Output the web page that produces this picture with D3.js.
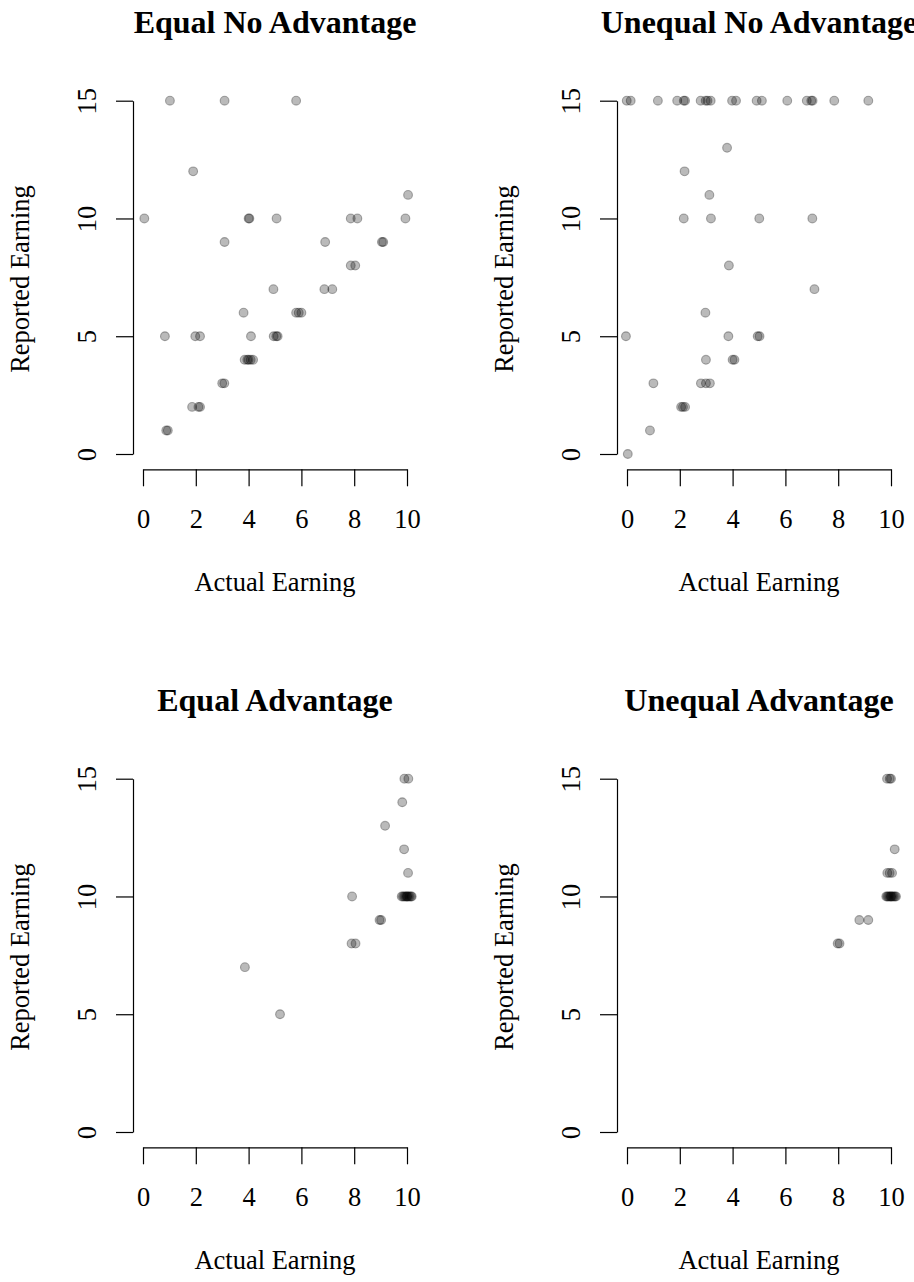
<!DOCTYPE html>
<html>
<head>
<meta charset="utf-8">
<script src="https://cdn.jsdelivr.net/npm/d3@7"></script>
<style>
  html, body { margin: 0; padding: 0; background: #fff; }
  svg { display: block; }
  text { font-family: "Liberation Serif", "Times New Roman", serif; fill: #000; }
</style>
</head>
<body>
<svg id="chart" width="914" height="1282"></svg>
<script>
// ---------------- DATA ----------------
const panelTitles = ["Equal No Advantage", "Unequal No Advantage", "Equal Advantage", "Unequal Advantage"];
const xTicks = [0, 2, 4, 6, 8, 10];
const yTicks = [0, 5, 10, 15];
const xLabel = "Actual Earning";
const yLabel = "Reported Earning";

// Equal No Advantage
const eqNoAdvX = [1.02, 3.09, 5.8, 1.9, 10.04,
  0.05, 4.0, 4.03, 5.06, 7.87, 8.12, 9.94,
  3.09, 6.9, 9.05, 9.1,
  7.87, 8.04,
  4.94, 6.87, 7.17,
  3.81, 5.8, 5.9, 6.0,
  0.83, 1.98, 2.16, 4.09, 4.95, 5.05, 5.1,
  3.85, 3.95, 4.0, 4.08, 4.17,
  3.0, 3.08,
  1.86, 2.1, 2.16,
  0.88, 0.94];
const eqNoAdvY = [15, 15, 15, 12, 11,
  10, 10, 10, 10, 10, 10, 10,
  9, 9, 9, 9,
  8, 8,
  7, 7, 7,
  6, 6, 6, 6,
  5, 5, 5, 5, 5, 5, 5,
  4, 4, 4, 4, 4,
  3, 3,
  2, 2, 2,
  1, 1];

// Unequal No Advantage
const uneqNoAdvX = [-0.01, 0.14, 1.17, 1.9, 2.15, 2.2, 2.79, 2.98, 3.05, 3.17, 3.98, 4.13, 4.91, 5.11, 6.07, 6.81, 6.98, 7.03, 7.85, 9.14,
  3.79, 2.18, 3.12,
  2.15, 3.18, 5.01, 7.02,
  3.86, 7.1, 2.97,
  -0.04, 3.84, 4.95, 5.02,
  2.99, 4.0, 4.07,
  1.0, 2.8, 2.99, 3.14,
  2.05, 2.12, 2.2,
  0.87, 0.03];
const uneqNoAdvY = [15, 15, 15, 15, 15, 15, 15, 15, 15, 15, 15, 15, 15, 15, 15, 15, 15, 15, 15, 15,
  13, 12, 11,
  10, 10, 10, 10,
  8, 7, 6,
  5, 5, 5, 5,
  4, 4, 4,
  3, 3, 3, 3,
  2, 2, 2,
  1, 0];

// Equal Advantage
const eqAdvX = [9.9, 10.05, 9.82, 9.17, 9.89, 10.04,
  7.92, 9.8, 9.85, 9.9, 9.95, 10.0, 10.0, 10.05, 10.1, 10.15, 10.18,
  8.96, 9.02,
  7.9, 8.05,
  3.86, 5.19];
const eqAdvY = [15, 15, 14, 13, 12, 11,
  10, 10, 10, 10, 10, 10, 10, 10, 10, 10, 10,
  9, 9,
  8, 8,
  7, 5];

// Unequal Advantage
const uneqAdvX = [9.85, 9.95, 10.0, 10.14,
  9.86, 9.95, 10.04,
  9.82, 9.86, 9.9, 9.95, 10.0, 10.0, 10.05, 10.1, 10.15, 10.19,
  8.8, 9.14,
  7.98, 8.05];
const uneqAdvY = [15, 15, 15, 12,
  11, 11, 11,
  10, 10, 10, 10, 10, 10, 10, 10, 10, 10,
  9, 9,
  8, 8];

const panelXs = [eqNoAdvX, uneqNoAdvX, eqAdvX, uneqAdvX];
const panelYs = [eqNoAdvY, uneqNoAdvY, eqAdvY, uneqAdvY];

// ---------------- LAYOUT ----------------
const svg = d3.select("#chart");
const origin = { x: 143, y: 100.7 };   // pixel of (0,15) in panel 1
const dx = 484, dy = 678;
const x = d3.scaleLinear().domain([0, 10]).range([0, 264]);
const y = d3.scaleLinear().domain([0, 15]).range([353.3, 0]);
const FS = 26.5;

panelTitles.forEach((title, i) => {
  const col = i % 2, row = Math.floor(i / 2);
  const g = svg.append("g")
    .attr("transform", `translate(${origin.x + col * dx},${origin.y + row * dy})`);

  // title
  g.append("text")
    .attr("x", x(5)).attr("y", 33 - origin.y)
    .attr("text-anchor", "middle")
    .style("font-weight", "bold").style("font-size", "32px")
    .text(title);

  // x axis
  const xAxisG = g.append("g")
    .attr("transform", `translate(0,${y(0) + 15.3})`)
    .call(d3.axisBottom(x).tickValues(xTicks).tickSize(17).tickSizeOuter(0).tickFormat(d3.format("d")));
  xAxisG.select(".domain").attr("stroke", "#000").attr("stroke-width", 1.2);
  xAxisG.selectAll(".tick line").attr("stroke", "#000").attr("stroke-width", 1.2);
  xAxisG.selectAll(".tick text")
    .attr("y", 58.7).attr("dy", null)
    .style("font-size", FS + "px").style("font-family", "Liberation Serif, serif").attr("fill", "#000");

  // y axis
  const yAxisG = g.append("g")
    .attr("transform", `translate(-10,0)`)
    .call(d3.axisLeft(y).tickValues(yTicks).tickSize(17).tickSizeOuter(0).tickFormat(d3.format("d")));
  yAxisG.select(".domain").attr("stroke", "#000").attr("stroke-width", 1.2);
  yAxisG.selectAll(".tick line").attr("stroke", "#000").attr("stroke-width", 1.2);
  yAxisG.selectAll(".tick text")
    .attr("x", null).attr("dy", null)
    .attr("transform", "translate(-37,0) rotate(-90)")
    .attr("text-anchor", "middle")
    .style("font-size", FS + "px").style("font-family", "Liberation Serif, serif").attr("fill", "#000");

  // axis titles
  g.append("text")
    .attr("x", x(5)).attr("y", 591.5 - origin.y)
    .attr("text-anchor", "middle").style("font-size", FS + "px")
    .text(xLabel);
  g.append("text")
    .attr("transform", `translate(${29 - origin.x},${279 - origin.y}) rotate(-90)`)
    .attr("text-anchor", "middle").style("font-size", FS + "px")
    .text(yLabel);

  // points
  const xs = panelXs[i], ys = panelYs[i];
  const pts = xs.map((v, k) => ({ a: v, r: ys[k] }));
  g.selectAll("circle.pt").data(pts).enter().append("circle")
    .attr("class", "pt")
    .attr("cx", d => x(d.a)).attr("cy", d => y(d.r))
    .attr("r", 4.4)
    .attr("fill", "rgba(0,0,0,0.27)")
    .attr("stroke", "rgba(0,0,0,0.3)")
    .attr("stroke-width", 1.1);
});
</script>
</body>
</html>
